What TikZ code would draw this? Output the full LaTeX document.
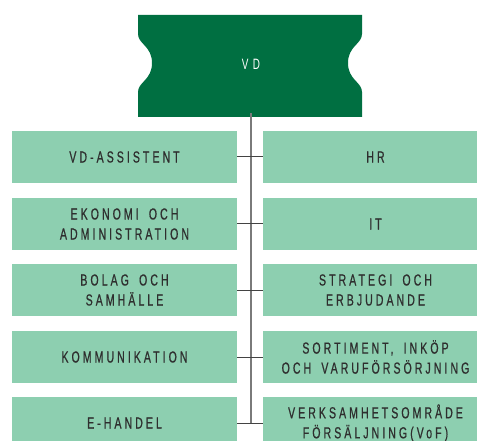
\documentclass[tikz,border=0pt]{standalone}
\usepackage{fontspec}
\newfontfamily\orgfont[FakeStretch=0.66,LetterSpace=19,WordSpace=1.7,FakeBold=0.6]{Liberation Sans}
\newfontfamily\vdfont[FakeStretch=0.66,LetterSpace=30]{Liberation Sans}
\definecolor{vdgreen}{HTML}{006F41}
\definecolor{unitgreen}{HTML}{8DCFB0}
\definecolor{unittext}{HTML}{2E2E2E}
\definecolor{trunkgray}{HTML}{7A7A7A}
\tikzset{
  unit/.style={fill=unitgreen, minimum width=225pt, minimum height=52pt,
    inner sep=0pt, align=center, text=unittext,
    font=\orgfont\fontsize{16}{20}\selectfont},
  trunk/.style={trunkgray, line width=1.5pt},
  branch/.style={unittext!90, line width=1pt}
}
\begin{document}
\begin{tikzpicture}[x=1pt,y=-1pt]
  \useasboundingbox (0,0) rectangle (477,441);

  % VD box with notched sides
  \fill[vdgreen] (138,15) -- (362,15) -- (362,34)
    .. controls (362,44) and (348,46) .. (348,63)
    .. controls (348,80) and (362,82) .. (362,92)
    -- (362,117) -- (138,117) -- (138,92)
    .. controls (138,82) and (152,80) .. (152,63)
    .. controls (152,46) and (138,44) .. (138,34) -- cycle;
  \node[font=\vdfont\fontsize{15}{18}\selectfont, text=white,
    minimum width=224pt, minimum height=98pt, inner sep=0pt] (vd) at (251,64) {VD};

  % left column
  \node[unit] (assist) at (124.5,157) {VD-ASSISTENT};
  \node[unit] (ekonomi) at (124.5,224) {EKONOMI OCH\\ADMINISTRATION};
  \node[unit] (bolag) at (124.5,290) {BOLAG OCH\\SAMHÄLLE};
  \node[unit] (komm) at (124.5,357) {KOMMUNIKATION};
  \node[unit] (ehandel) at (124.5,423) {E-HANDEL};

  % right column
  \node[unit] (hr) at (375.5,157) {HR};
  \node[unit] (it) at (375.5,224) {IT};
  \node[unit] (strategi) at (375.5,290) {STRATEGI OCH\\ERBJUDANDE};
  \node[unit] (sortiment) at (375.5,357) {SORTIMENT, INKÖP\\OCH VARUFÖRSÖRJNING};
  \node[unit] (voF) at (375.5,423) {VERKSAMHETSOMRÅDE\\FÖRSÄLJNING(VoF)};

  % connectors
  \coordinate (trunkend) at (vd.south |- ehandel.east);
  \draw[trunk] (vd.south) -- (trunkend);
  \draw[branch] (assist.east) -- (hr.west);
  \draw[branch] (ekonomi.east) -- (it.west);
  \draw[branch] (bolag.east) -- (strategi.west);
  \draw[branch] (komm.east) -- (sortiment.west);
  \draw[branch] (ehandel.east) -- (voF.west);
\end{tikzpicture}
\end{document}
